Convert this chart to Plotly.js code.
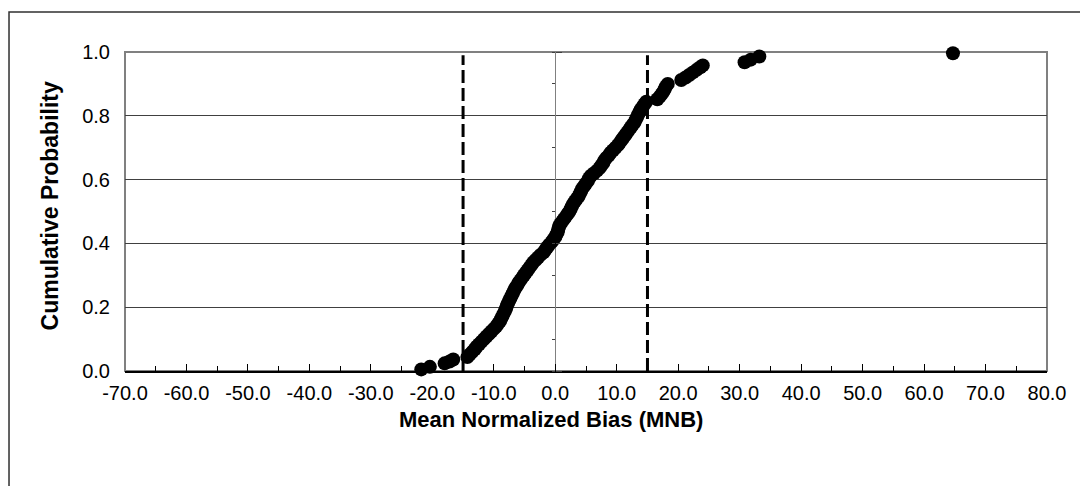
<!DOCTYPE html>
<html>
<head>
<meta charset="utf-8">
<script src="https://cdn.plot.ly/plotly-3.0.1.min.js"></script>
<style>
  html, body { margin: 0; padding: 0; background: #ffffff; }
  #chart { width: 1080px; height: 486px; }
</style>
</head>
<body>
<div id="chart"></div>
<script>
// Mean Normalized Bias values (sorted) and their cumulative probabilities
var mnbValues = [
  -21.8, -20.4, -18.0, -17.2, -16.6, -14.3, -13.9, -13.5, -13.1, -12.8,
  -12.4, -12.0, -11.6, -11.2, -10.8, -10.4, -10.0, -9.6, -9.3, -9.0,
  -8.8, -8.6, -8.4, -8.2, -8.0, -7.9, -7.7, -7.5, -7.3, -7.1,
  -6.9, -6.7, -6.5, -6.2, -6.0, -5.7, -5.4, -5.1, -4.8, -4.5,
  -4.2, -3.9, -3.6, -3.2, -2.8, -2.4, -1.9, -1.6, -1.3, -1.0,
  -0.6, -0.3, 0.0, 0.2, 0.4, 0.5, 0.6, 0.8, 1.1, 1.4,
  1.7, 2.0, 2.3, 2.5, 2.7, 2.9, 3.2, 3.5, 3.8, 4.0,
  4.2, 4.4, 4.7, 5.0, 5.3, 5.5, 5.8, 6.3, 6.8, 7.2,
  7.5, 7.8, 8.0, 8.3, 8.7, 9.0, 9.4, 9.8, 10.2, 10.5,
  10.8, 11.1, 11.4, 11.7, 12.0, 12.3, 12.6, 12.9, 13.1, 13.3,
  13.5, 13.7, 13.9, 14.2, 14.5, 14.8, 16.6, 17.0, 17.3, 17.6,
  17.8, 18.0, 18.3, 20.5, 21.2, 21.8, 22.4, 23.0, 23.6, 24.0,
  30.8, 31.8, 33.2, 64.7
];
var cumProb = [
  0.005, 0.013, 0.024, 0.030, 0.036, 0.044, 0.052, 0.060, 0.068, 0.076,
  0.084, 0.092, 0.100, 0.108, 0.116, 0.124, 0.132, 0.140, 0.148, 0.156,
  0.164, 0.172, 0.180, 0.188, 0.196, 0.204, 0.212, 0.220, 0.228, 0.236,
  0.244, 0.252, 0.260, 0.268, 0.276, 0.284, 0.292, 0.300, 0.308, 0.316,
  0.324, 0.332, 0.340, 0.348, 0.356, 0.364, 0.372, 0.380, 0.388, 0.396,
  0.404, 0.412, 0.420, 0.428, 0.436, 0.444, 0.452, 0.460, 0.468, 0.476,
  0.484, 0.492, 0.500, 0.508, 0.516, 0.524, 0.532, 0.540, 0.548, 0.556,
  0.564, 0.572, 0.580, 0.588, 0.596, 0.604, 0.612, 0.620, 0.628, 0.636,
  0.644, 0.652, 0.660, 0.668, 0.676, 0.684, 0.692, 0.700, 0.708, 0.716,
  0.724, 0.732, 0.740, 0.748, 0.756, 0.764, 0.772, 0.780, 0.788, 0.796,
  0.804, 0.812, 0.820, 0.828, 0.836, 0.844, 0.852, 0.860, 0.868, 0.876,
  0.884, 0.892, 0.900, 0.912, 0.920, 0.928, 0.936, 0.944, 0.952, 0.958,
  0.968, 0.976, 0.986, 0.996
];
// Criterion lines (±15 %)
var criterionLow = [-15, -15];
var criterionHigh = [15, 15];
var criterionY = [0, 0.99];

// Axis tick labels
var xTickVals = [-70, -60, -50, -40, -30, -20, -10, 0, 10, 20, 30, 40, 50, 60, 70, 80];
var xTickText = ["-70.0", "-60.0", "-50.0", "-40.0", "-30.0", "-20.0", "-10.0", "0.0", "10.0", "20.0", "30.0", "40.0", "50.0", "60.0", "70.0", "80.0"];
var yTickVals = [0, 0.2, 0.4, 0.6, 0.8, 1.0];
var yTickText = ["0.0", "0.2", "0.4", "0.6", "0.8", "1.0"];

var FONT = "Liberation Sans, Arial, sans-serif";

var traces = [
  {
    x: criterionLow, y: criterionY, type: "scatter", mode: "lines",
    xaxis: "x", yaxis: "y2",
    line: { color: "#000000", width: 3, dash: "13px,5px" },
    hoverinfo: "skip", showlegend: false
  },
  {
    x: criterionHigh, y: criterionY, type: "scatter", mode: "lines",
    xaxis: "x", yaxis: "y2",
    line: { color: "#000000", width: 3, dash: "13px,5px" },
    hoverinfo: "skip", showlegend: false
  },
  {
    x: [], y: [], type: "scatter", mode: "markers",
    xaxis: "x", yaxis: "y3", showlegend: false, hoverinfo: "skip"
  },
  {
    x: mnbValues, y: cumProb, type: "scatter", mode: "markers",
    xaxis: "x", yaxis: "y",
    marker: { color: "#000000", size: 14, symbol: "circle", line: { width: 0 } },
    cliponaxis: false, showlegend: false
  }
];

var yPos = 70 / 150;

var layout = {
  width: 1080, height: 486,
  margin: { l: 125, r: 33, t: 52, b: 114.5, pad: 0 },
  paper_bgcolor: "#ffffff", plot_bgcolor: "#ffffff",
  font: { family: FONT, color: "#000000", size: 20 },
  showlegend: false,
  xaxis: {
    range: [-70, 80], autorange: false, fixedrange: true,
    tickmode: "array", tickvals: xTickVals, ticktext: xTickText,
    ticks: "inside", ticklen: 7, tickwidth: 1, tickcolor: "#000000",
    minor: { dtick: 5, tick0: -70, ticks: "inside", ticklen: 5, tickcolor: "#000000", showgrid: false },
    showgrid: false,
    zeroline: true, zerolinecolor: "#808080", zerolinewidth: 1.5,
    showline: true, linecolor: "#000000", linewidth: 1.5,
    tickfont: { family: FONT, size: 20, color: "#000000" },
    ticklabelstandoff: 3
  },
  yaxis: {
    range: [0, 1], autorange: false, fixedrange: true,
    tickmode: "array", tickvals: yTickVals, ticktext: yTickText,
    ticks: "", showgrid: true, gridcolor: "#404040", gridwidth: 1,
    zeroline: false, showline: false,
    tickfont: { family: FONT, size: 20, color: "#000000" },
    ticklabelstandoff: 14
  },
  yaxis2: {
    overlaying: "y", anchor: "free", position: yPos, side: "left",
    range: [0, 1], autorange: false, fixedrange: true,
    dtick: 0.1, tick0: 0, ticks: "outside", ticklen: 3, tickcolor: "#404040", tickwidth: 1,
    showticklabels: false, showgrid: false, zeroline: false, showline: false
  },
  yaxis3: {
    overlaying: "y", anchor: "free", position: yPos, side: "right",
    range: [0, 1], autorange: false, fixedrange: true,
    dtick: 0.2, tick0: 0, ticks: "outside", ticklen: 6, tickcolor: "#404040", tickwidth: 1,
    showticklabels: false, showgrid: false, zeroline: false, showline: false
  },
  shapes: [
    {
      type: "rect", xref: "paper", yref: "paper", layer: "below",
      x0: 0, x1: 1, y0: 0, y1: 1,
      line: { color: "#808080", width: 2 }, fillcolor: "rgba(0,0,0,0)"
    },
    {
      type: "rect", xref: "paper", yref: "paper", layer: "below",
      x0: -0.1258, x1: 1.06, y0: -0.45, y1: 1.1252,
      line: { color: "#303030", width: 1.5 }, fillcolor: "rgba(0,0,0,0)"
    }
  ],
  annotations: [
    {
      text: "<b>Cumulative Probability</b>", xref: "paper", yref: "paper",
      x: -0.0813, y: 0.516, xanchor: "center", yanchor: "middle",
      textangle: -90, showarrow: false,
      font: { family: FONT, size: 23, color: "#000000" }
    },
    {
      text: "<b>Mean Normalized Bias (MNB)</b>", xref: "paper", yref: "paper",
      x: 0.462, y: -0.152, xanchor: "center", yanchor: "middle",
      showarrow: false,
      font: { family: FONT, size: 22, color: "#000000" }
    }
  ]
};

Plotly.newPlot("chart", traces, layout, { staticPlot: true, displayModeBar: false });
</script>
</body>
</html>
